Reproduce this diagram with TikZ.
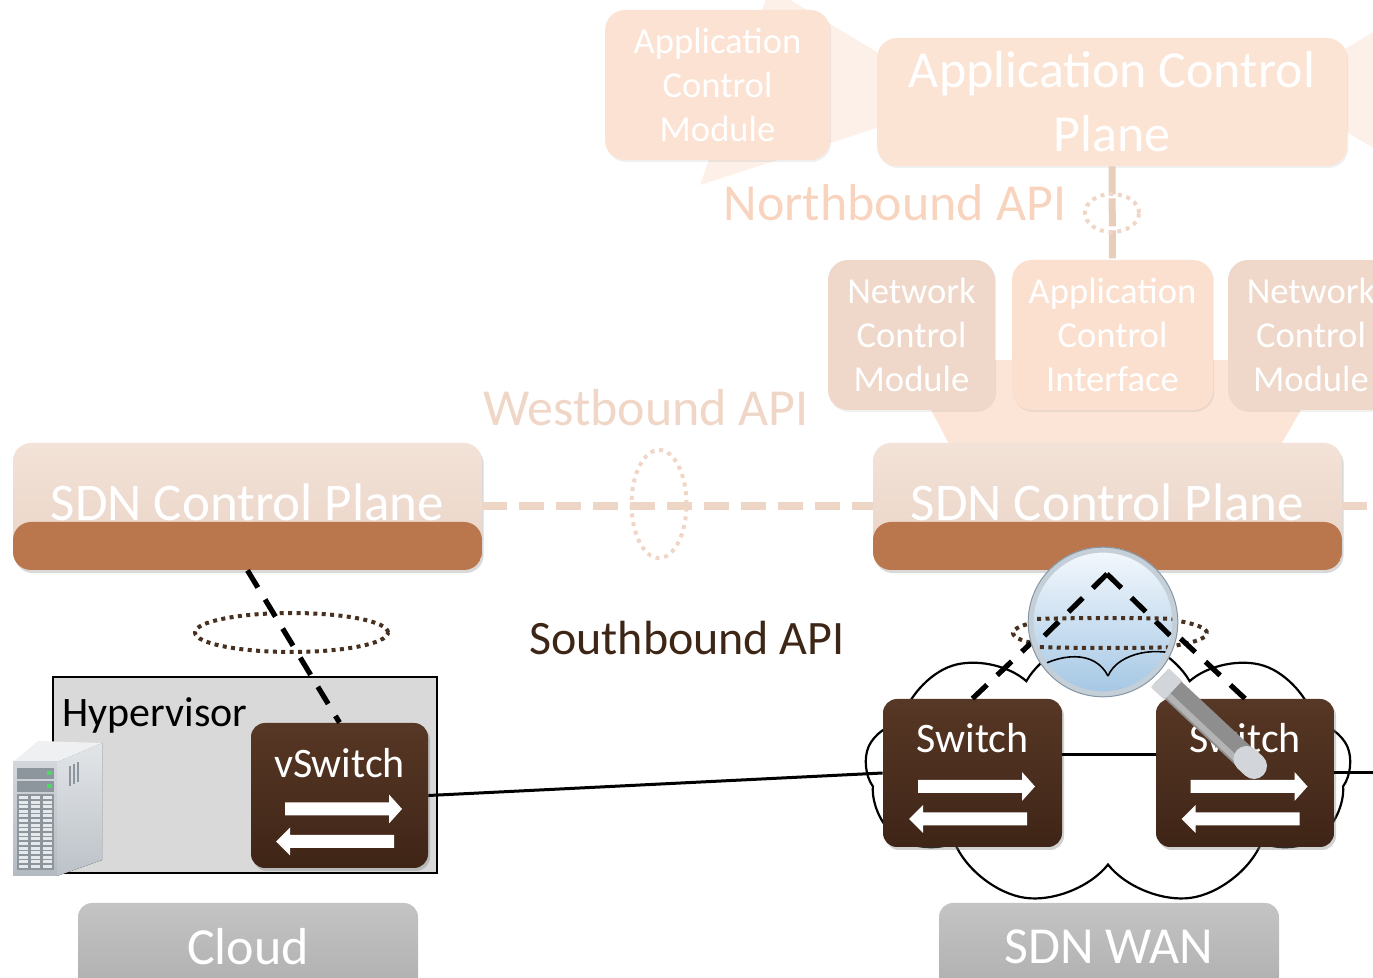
\documentclass[tikz,border=0pt]{standalone}
\usepackage{fontspec}
\setmainfont{Carlito}
\usetikzlibrary{shapes.symbols,shapes.geometric,shadows,calc}

\definecolor{acpfill}{HTML}{FCE4D5}
\definecolor{acmfill}{HTML}{FBE2D3}
\definecolor{ncmfill}{HTML}{EFD8C9}
\definecolor{acifill}{HTML}{FBE0CF}
\definecolor{wedgefill}{HTML}{FDF0E8}
\definecolor{apitxt}{HTML}{F8D4BE}
\definecolor{westtxt}{HTML}{EFD6C7}
\definecolor{westline}{HTML}{EED6C7}
\definecolor{northline}{HTML}{E9CDBB}
\definecolor{sdntop}{HTML}{F3E2D7}
\definecolor{sdntopb}{HTML}{E9D3C5}
\definecolor{copper}{HTML}{BA774D}
\definecolor{swtop}{HTML}{573725}
\definecolor{swbot}{HTML}{3F2517}
\definecolor{sbtxt}{HTML}{3D2616}
\definecolor{dotbrown}{HTML}{47301F}
\definecolor{hypgray}{HTML}{D9D9D9}
\definecolor{labtop}{HTML}{C4C4C4}
\definecolor{labbot}{HTML}{AFAFAF}
\definecolor{lenstop}{HTML}{F5F9FD}
\definecolor{lensbot}{HTML}{A3C6E4}
\definecolor{rimlight}{HTML}{C5CFD8}
\definecolor{rimdark}{HTML}{8797A5}
\definecolor{srvfront}{HTML}{D3D7DC}
\definecolor{srvfrontb}{HTML}{B4BAC1}
\definecolor{srvside}{HTML}{E2E5E8}
\definecolor{srvsideb}{HTML}{BCC2C8}
\definecolor{srvtop}{HTML}{EEF0F2}
\definecolor{srvslot}{HTML}{8D959D}
\definecolor{srvcell}{HTML}{E6E9EC}
\definecolor{srvled}{HTML}{4CD964}
\definecolor{handlebody}{HTML}{8E8E8E}
\definecolor{handlehi}{HTML}{B4B4B4}
\definecolor{handlecap}{HTML}{D2D6DA}

\tikzset{
  fadedbox/.style={rounded corners=10pt, draw=none, text=white, align=center, inner sep=0pt,
    drop shadow={opacity=0.12, shadow xshift=0.6pt, shadow yshift=-1pt}},
  modtext/.style={font=\fontsize{18.3}{22}\selectfont},
  bigtext/.style={font=\fontsize{26}{32}\selectfont},
  sdnbox/.style={rounded corners=9pt, top color=sdntop, bottom color=sdntopb,
    minimum width=234.5pt, minimum height=63.5pt, inner sep=0pt,
    drop shadow={opacity=0.3, shadow xshift=0.8pt, shadow yshift=-1.5pt},
    path picture={\fill[copper] (path picture bounding box.south west) rectangle ([yshift=-7.75pt]path picture bounding box.east);}},
  sdntext/.style={text=white, inner sep=0pt, font=\fontsize{26.5}{32}\selectfont},
  ctrlline/.style={draw=black, line width=2.6pt, dash pattern=on 10pt off 7pt},
  dotring/.style={ellipse, draw=dotbrown, line width=2pt, dash pattern=on 2pt off 2.2pt, inner sep=0pt},
  faintring/.style={ellipse, draw=westtxt, line width=2pt, dash pattern=on 2pt off 2.4pt, inner sep=0pt},
  swbox/.style={rounded corners=7pt, top color=swtop, bottom color=swbot, inner sep=0pt,
    drop shadow={opacity=0.35, shadow xshift=1pt, shadow yshift=-1.5pt}},
  swtext/.style={text=white, inner sep=0pt, font=\fontsize{21}{25}\selectfont},
  labbox/.style={rounded corners=7pt, top color=labtop, bottom color=labbot, text=white,
    inner sep=0pt, font=\fontsize{26}{31}\selectfont, minimum width=170pt, minimum height=44pt},
  link/.style={draw=black, line width=1.5pt},
  pics/flowarrows/.style={code={
    \fill[white] (-54.5,7) -- (49.5,7) -- (49.5,-1) -- (62.5,13.5) -- (49.5,28) -- (49.5,20) -- (-54.5,20) -- cycle;
    \fill[white] (54.5,39.5) -- (-49.5,39.5) -- (-49.5,32) -- (-63.5,46) -- (-49.5,60) -- (-49.5,52.5) -- (54.5,52.5) -- cycle;
  }}
}

\begin{document}
\begin{tikzpicture}[x=0.5pt,y=-0.5pt]
\useasboundingbox (0,0) rectangle (1373,978);
\clip (0,0) rectangle (1373,978);

% faint callout wedges behind the upper layers
\fill[wedgefill] (877,52) -- (770,-12) -- (700,185) -- (877,128) -- cycle;
\fill[wedgefill] (1340,52) -- (1385,25) -- (1385,155) -- (1340,128) -- cycle;
\fill[acifill!85!white] (950,446) -- (905,360) -- (1330,360) -- (1280,446) -- cycle;

% application layer
\node[fadedbox, fill=acmfill, modtext, minimum width=112.5pt, minimum height=75pt] (acm) at (717.5,85) {Application\\Control\\Module};
\node[fadedbox, fill=acpfill, bigtext, minimum width=235pt, minimum height=64pt] (acp) at (1112,102) {Application Control\\Plane};

% network control modules
\node[fadedbox, fill=ncmfill, modtext, minimum width=83.5pt, minimum height=75pt] (ncm1) at (911.5,335) {Network\\Control\\Module};
\node[fadedbox, fill=acifill, modtext, minimum width=100.5pt, minimum height=75pt] (aci) at (1112.5,335) {Application\\Control\\Interface};
\node[fadedbox, fill=ncmfill, modtext, minimum width=83pt, minimum height=75pt] (ncm2) at (1311,335) {Network\\Control\\Module};

% northbound interface
\draw[northline, line width=3.5pt, dash pattern=on 14pt off 2pt] (acp.south) -- (aci.north);
\node[faintring, minimum width=27pt, minimum height=19pt] (nbring) at (1112,213) {};
\node[text=apitxt, inner sep=0pt, bigtext] (nbapi) at (895,203) {Northbound API};

% SDN control planes
\node[sdnbox] (sdn1) at (247.5,506.5) {};
\node[sdnbox] (sdn2) at (1107.5,506.5) {};
\node[sdntext] (sdn1txt) at (247.5,502) {SDN Control Plane};
\node[sdntext] (sdn2txt) at (1107.5,502) {SDN Control Plane};

% westbound interface
\coordinate (wbend) at (1385,506.5);
\draw[westline, line width=4pt, dash pattern=on 12.5pt off 6pt] (sdn1.east) -- (sdn2.west);
\draw[westline, line width=4pt, dash pattern=on 12.5pt off 6pt] (sdn2.east) -- (wbend);
\node[faintring, minimum width=27.5pt, minimum height=54pt] (wbring) at (659,504) {};
\node[text=westtxt, inner sep=0pt, bigtext] (wbapi) at (646,408) {Westbound API};

% southbound interface
\node[text=sbtxt, inner sep=0pt, font=\fontsize{24}{29}\selectfont] (sbapi) at (687,638) {Southbound API};
\node[dotring, minimum width=96.5pt, minimum height=19.5pt] (sbring1) at (291.5,632.5) {};

% cloud site: hypervisor with server and vSwitch
\node[draw=black, line width=1.2pt, fill=hypgray, minimum width=192pt, minimum height=98pt, inner sep=0pt] (hyp) at (245,775) {};
\node[anchor=base west, inner sep=0pt, font=\fontsize{21}{25}\selectfont] (hyptxt) at (62,727) {Hypervisor};

% server tower
\fill[top color=srvside, bottom color=srvsideb] (57,762) -- (102,743) -- (102,860) -- (57,876) -- cycle;
\fill[srvtop] (13,762) -- (38,741) -- (102,743) -- (57,762) -- cycle;
\fill[top color=srvfront, bottom color=srvfrontb] (13,762) rectangle (57,876);
\fill[srvslot] (17,768) rectangle (54,779);
\fill[srvslot] (17,781) rectangle (54,792);
\fill[srvled] (47,771) rectangle (52,775);
\fill[srvled] (47,784) rectangle (52,788);
\fill[srvslot] (17,794) rectangle (54,870);
\foreach \r in {0,...,15} {
  \foreach \c in {0,1,2} {
    \fill[srvcell] ({19+\c*12},{796+\r*4.6}) rectangle ++(9,3);
  }
}
\draw[srvslot, line width=0.8pt] (70,766) -- (70,786) (74,764) -- (74,784) (78,762) -- (78,782);

\node[swbox, minimum width=88.5pt, minimum height=72.5pt] (vsw) at (339.5,795.5) {};
\pic at (vsw) {flowarrows};
\node[swtext, anchor=base] (vswtxt) at (339.5,778) {vSwitch};

% SDN WAN
\node[cloud, cloud puffs=9, cloud puff arc=120, aspect=2.0, draw=black, line width=1.1pt, fill=white,
  minimum width=243pt, minimum height=136pt, inner sep=0pt] (wan) at (1108,770) {};
\node[dotring, minimum width=97pt, minimum height=17pt] (sbring2) at (1110,633) {};

\node[swbox, minimum width=89.5pt, minimum height=74pt] (sw1) at (972.5,773) {};
\node[swbox, minimum width=89pt, minimum height=74pt] (sw2) at (1245,773) {};
\pic at (sw1) {flowarrows};
\pic at (sw2) {flowarrows};
\node[swtext, anchor=base] (sw1txt) at (972.5,753) {Switch};
\node[swtext, anchor=base] (sw2txt) at (1245,753) {Switch};

% data links
\coordinate (linkend) at (1385,773);
\draw[link] (vsw.east) -- (sw1.west);
\draw[link] ([yshift=9pt]sw1.east) -- ([yshift=9pt]sw2.west);
\draw[link] (sw2.east) -- (linkend);

% control channels
\draw[ctrlline] (sdn1.south) -- (vsw.north);
\draw[ctrlline] (sw1.north) -- (sdn2.south);
\draw[ctrlline] (sw2.north) -- (sdn2.south);

% magnifying glass: handle
\coordinate (hA) at (1160,678);
\coordinate (hB) at (1254,766);
\draw[line width=12pt, draw=handlebody] (hA) -- (hB);
\draw[line width=3pt, draw=handlehi] ($(hA)+(-5,5)$) -- ($(hB)+(-5,5)$);
\draw[line width=13pt, draw=handlecap, line cap=round] ($(hA)!0.92!(hB)$) -- (hB);
\draw[line width=13pt, draw=handlecap] (hA) -- ($(hA)!0.14!(hB)$);
% magnifying glass: lens
\node[circle, minimum size=75pt, inner sep=0pt, top color=lenstop, bottom color=lensbot] (lens) at (1103,622) {};
\begin{scope}
  \clip (lens.center) circle (35pt);
  \draw[ctrlline] (1107,574) -- (1030,650);
  \draw[ctrlline] (1107,574) -- (1185,650);
  \draw[dotbrown, line width=2pt, dash pattern=on 2pt off 2.2pt] (1108,633) ellipse [x radius=100pt, y radius=7.5pt];
  \draw[black, line width=0.8pt] (1030,672) .. controls (1060,652) and (1095,650) .. (1108,676);
  \draw[black, line width=0.8pt] (1108,676) .. controls (1118,652) and (1160,645) .. (1185,658);
\end{scope}
\draw[rimlight, line width=2.6pt] (lens.center) circle (36pt);
\draw[rimdark, line width=0.5pt] (lens.center) circle (37.4pt);

% site labels
\node[labbox] (cloudlab) at (248,947) {Cloud};
\node[labbox] (wanlab) at (1109,947) {SDN WAN};
\end{tikzpicture}
\end{document}
